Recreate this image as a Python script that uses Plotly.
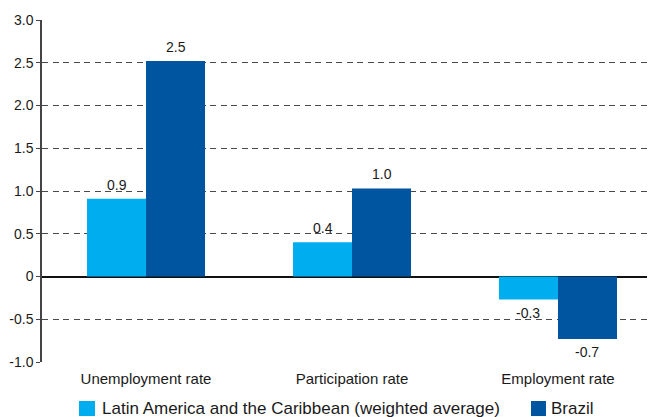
import plotly.graph_objects as go

categories = ["Unemployment rate", "Participation rate", "Employment rate"]
lac_values = [0.91, 0.40, -0.27]
brazil_values = [2.52, 1.03, -0.73]
series_names = ["Latin America and the Caribbean (weighted average)", "Brazil"]
y_ticks = [-1.0, -0.5, 0, 0.5, 1.0, 1.5, 2.0, 2.5, 3.0]
y_tick_labels = ["-1.0", "-0.5", "0", "0.5", "1.0", "1.5", "2.0", "2.5", "3.0"]

colors = ["#00AEEF", "#0055A0"]
font_family = "Liberation Sans, Arial, sans-serif"
text_color = "#1a1a1a"

fig = go.Figure()
for name, vals, col in zip(series_names, [lac_values, brazil_values], colors):
    fig.add_trace(go.Bar(
        x=categories, y=vals, name=name,
        marker=dict(color=col, line=dict(width=0)),
        showlegend=False,
    ))
# value labels
for vals, xs in zip([lac_values, brazil_values], [-29.5, 29.5]):
    for c, v in zip(categories, vals):
        fig.add_annotation(
            x=c, y=v, text=f"{v:.1f}", showarrow=False,
            xshift=xs, yshift=14 if v >= 0 else -13,
            font=dict(size=14, color=text_color, family=font_family),
        )

# hand-placed legend below the plot (paper coordinates)
legend_pos = [(0.0604, 0.0865, 0.0963), (0.7977, 0.8222, 0.8287)]
for name, col, (x0, x1, xt) in zip(series_names, colors, legend_pos):
    fig.add_shape(type="rect", xref="paper", yref="paper",
                  x0=x0, x1=x1, y0=-0.158, y1=-0.114,
                  fillcolor=col, line=dict(width=0))
    fig.add_annotation(xref="paper", yref="paper", x=xt, y=-0.137,
                       xanchor="left", yanchor="middle", text=name,
                       showarrow=False, borderpad=0,
                       font=dict(size=17, color=text_color, family=font_family))

# page body adds an 8px offset, so the figure is sized to fit the window
fig.update_layout(
    width=647, height=409,
    margin=dict(l=34, r=0, t=12, b=55, autoexpand=False),
    paper_bgcolor="white", plot_bgcolor="white",
    barmode="group", bargap=0.427, bargroupgap=0,
    font=dict(family=font_family, size=14, color=text_color),
    showlegend=False,
    xaxis=dict(
        type="category", range=[-0.505, 2.471],
        showgrid=False, showline=False,
        ticks="outside", ticklen=3, tickcolor="rgba(0,0,0,0)",
        tickfont=dict(size=15, color=text_color),
        fixedrange=True,
    ),
    yaxis=dict(
        range=[-1.0, 3.0], tickvals=y_ticks, ticktext=y_tick_labels,
        showgrid=True, gridcolor="#4a4a4a", gridwidth=1, griddash="6px,4.5px",
        zeroline=True, zerolinecolor="#111", zerolinewidth=1.5,
        showline=True, linecolor="#444", linewidth=1.5,
        ticks="outside", ticklen=4, tickcolor="#444", tickwidth=1,
        tickfont=dict(size=14, color=text_color),
        fixedrange=True,
    ),
)

fig.write_html("out.html")
